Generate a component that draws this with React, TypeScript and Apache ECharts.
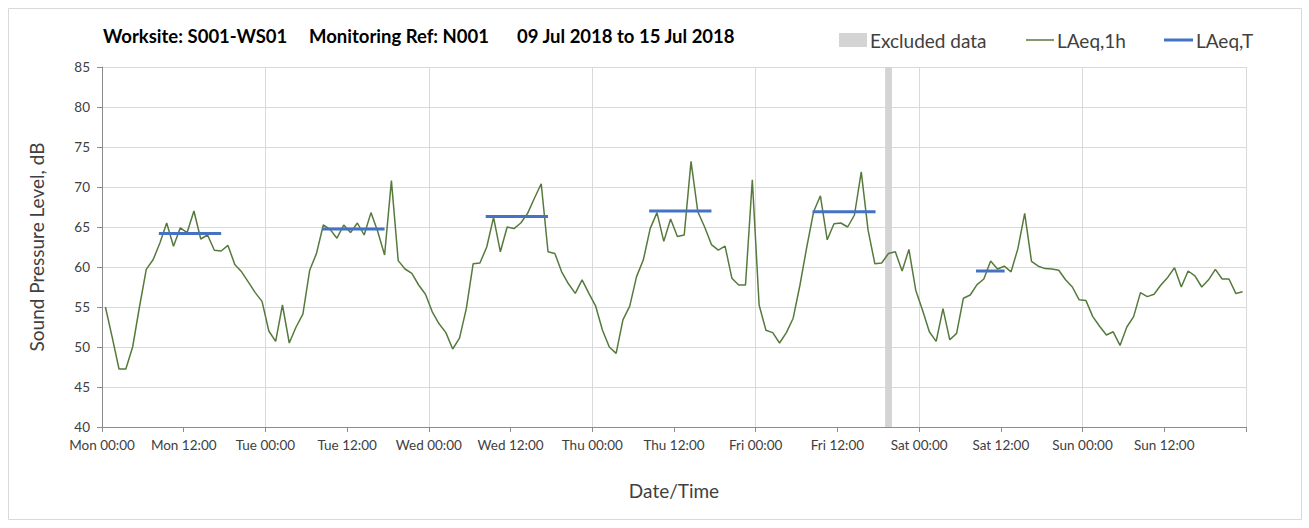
import React, { useEffect, useRef } from "react";
import * as echarts from "echarts";

// Hourly LAeq,1h values (points plotted at mid-hour), one array per day
const mon = [55.0, 51.2, 47.25, 47.25, 50.0, 55.0, 59.7, 60.9, 63.0, 65.5, 62.6, 64.9, 64.3, 67.0, 63.5, 64.0, 62.1, 62.0, 62.7, 60.3, 59.4, 58.1, 56.8, 55.7];
const tue = [52.0, 50.7, 55.25, 50.5, 52.5, 54.1, 59.6, 61.7, 65.25, 64.7, 63.6, 65.25, 64.3, 65.5, 64.0, 66.8, 64.4, 61.5, 70.8, 60.8, 59.75, 59.2, 57.75, 56.6];
const wed = [54.4, 52.9, 51.8, 49.75, 51.1, 54.8, 60.4, 60.5, 62.5, 66.2, 61.9, 65.0, 64.8, 65.5, 66.7, 68.6, 70.4, 61.9, 61.7, 59.4, 57.9, 56.7, 58.4, 56.7];
const thu = [55.1, 52.1, 50.0, 49.2, 53.4, 55.1, 58.8, 60.9, 64.8, 66.8, 63.2, 66.0, 63.8, 64.0, 73.2, 66.9, 65.0, 62.8, 62.1, 62.6, 58.6, 57.75, 57.75, 70.9];
const fri = [55.25, 52.1, 51.8, 50.5, 51.8, 53.6, 57.75, 62.5, 66.9, 68.9, 63.4, 65.4, 65.5, 65.0, 66.5, 71.9, 64.6, 60.4, 60.5, 61.7, 61.9, 59.5, 62.2, 57.1];
const sat = [54.6, 51.9, 50.7, 54.8, 50.9, 51.7, 56.1, 56.5, 57.8, 58.5, 60.75, 59.75, 60.1, 59.4, 62.3, 66.7, 60.7, 60.1, 59.8, 59.75, 59.6, 58.4, 57.5, 55.9];
const sun = [55.8, 53.8, 52.6, 51.5, 51.9, 50.2, 52.5, 53.8, 56.8, 56.3, 56.6, 57.75, 58.7, 59.9, 57.5, 59.5, 58.9, 57.5, 58.4, 59.7, 58.5, 58.5, 56.7, 56.9];
const days = [mon, tue, wed, thu, fri, sat, sun];
const dayNames = ["Mon", "Tue", "Wed", "Thu", "Fri", "Sat", "Sun"];

// LAeq,T periods (hours from Mon 00:00) and levels
const periodStart = [8.35, 32.35, 56.35, 80.35, 104.35, 128.35];
const periodEnd = [17.5, 41.5, 65.5, 89.5, 113.6, 132.55];
const periodLevel = [64.2, 64.75, 66.3, 67.0, 66.9, 59.5];

// Excluded data window (hours from Mon 00:00)
const excludedStart = 115;
const excludedEnd = 116;

const titleParts = ["Worksite: S001-WS01", "Monitoring Ref: N001", "09 Jul 2018 to 15 Jul 2018"];
const legendNames = ["Excluded data", "LAeq,1h", "LAeq,T"];

const FONT = 'Lato, "Open Sans", sans-serif';

export default function App() {
  const ref = useRef<HTMLDivElement>(null);
  useEffect(() => {
    if (!ref.current) return;
    const chart = echarts.init(ref.current, null, { renderer: "svg" });
    const hourly: [number, number][] = [];
    days.forEach((d, di) => d.forEach((v, h) => hourly.push([di * 24 + h + 0.5, v])));

    const series: any[] = [
      {
        type: "line",
        name: "LAeq,1h",
        data: hourly,
        showSymbol: false,
        lineStyle: { color: "#567a3c", width: 1.5 },
        z: 3,
        markArea: {
          silent: true,
          itemStyle: { color: "#d4d4d4" },
          data: [[{ xAxis: excludedStart }, { xAxis: excludedEnd }]],
        },
      },
    ];
    periodStart.forEach((s, i) => {
      series.push({
        type: "line",
        name: "LAeq,T",
        data: [
          [s, periodLevel[i]],
          [periodEnd[i], periodLevel[i]],
        ],
        showSymbol: false,
        lineStyle: { color: "#4472c4", width: 3 },
        z: 4,
      });
    });

    const legendY = 40;
    chart.setOption({
      animation: false,
      textStyle: { fontFamily: FONT },
      grid: { left: 102, top: 67, width: 1144, height: 360 },
      xAxis: {
        type: "value",
        min: 0,
        max: 168,
        interval: 12,
        name: "Date/Time",
        nameLocation: "middle",
        nameGap: 54,
        nameTextStyle: { fontSize: 19, color: "#404040", fontFamily: FONT },
        axisLine: { show: true, lineStyle: { color: "#8c8c8c", width: 1 } },
        axisTick: { show: true, length: 5, lineStyle: { color: "#8c8c8c" } },
        axisLabel: {
          fontSize: 13.5,
          color: "#404040",
          margin: 11,
          fontFamily: FONT,
          formatter: (v: number) => {
            if (v >= 168) return "";
            const d = Math.floor(v / 24);
            const h = v % 24;
            return dayNames[d] + " " + (h === 0 ? "00:00" : "12:00");
          },
        },
        splitLine: { show: true, lineStyle: { color: ["#d9d9d9", "rgba(0,0,0,0)"], width: 1 } },
      },
      yAxis: {
        type: "value",
        min: 40,
        max: 85,
        interval: 5,
        name: "Sound Pressure Level, dB",
        nameLocation: "middle",
        nameRotate: 90,
        nameGap: 56,
        nameTextStyle: { fontSize: 19, color: "#404040", fontFamily: FONT },
        axisLine: { show: true, lineStyle: { color: "#8c8c8c", width: 1 } },
        axisTick: { show: true, length: 5, lineStyle: { color: "#8c8c8c" } },
        axisLabel: { fontSize: 13.5, color: "#404040", margin: 12, fontFamily: FONT },
        splitLine: { show: true, lineStyle: { color: "#d9d9d9", width: 1 } },
      },
      series,
      graphic: [
        {
          type: "rect",
          shape: { x: 8.5, y: 8.5, width: 1293, height: 511 },
          style: { fill: "none", stroke: "#d9d9d9", lineWidth: 1 },
          silent: true,
        },
        { type: "text", x: 103, y: 36, style: { text: titleParts[0], font: `bold 18.5px ${FONT}`, fill: "#000", textVerticalAlign: "middle" } },
        { type: "text", x: 309, y: 36, style: { text: titleParts[1], font: `bold 18.5px ${FONT}`, fill: "#000", textVerticalAlign: "middle" } },
        { type: "text", x: 517, y: 36, style: { text: titleParts[2], font: `bold 18.5px ${FONT}`, fill: "#000", textVerticalAlign: "middle" } },
        { type: "rect", shape: { x: 839, y: legendY - 7, width: 28, height: 14 }, style: { fill: "#d4d4d4" } },
        { type: "text", x: 870, y: legendY, style: { text: legendNames[0], font: `19px ${FONT}`, fill: "#404040", textVerticalAlign: "middle" } },
        { type: "line", shape: { x1: 1026, y1: legendY, x2: 1054, y2: legendY }, style: { stroke: "#567a3c", lineWidth: 1.5 } },
        { type: "text", x: 1057, y: legendY, style: { text: legendNames[1], font: `19px ${FONT}`, fill: "#404040", textVerticalAlign: "middle" } },
        { type: "line", shape: { x1: 1164, y1: legendY, x2: 1193, y2: legendY }, style: { stroke: "#4472c4", lineWidth: 3 } },
        { type: "text", x: 1196, y: legendY, style: { text: legendNames[2], font: `19px ${FONT}`, fill: "#404040", textVerticalAlign: "middle" } },
      ],
    });
    return () => chart.dispose();
  }, []);
  return <div ref={ref} style={{ position: "fixed", left: 0, top: 0, width: 1309, height: 528, background: "#fff" }} />;
}
